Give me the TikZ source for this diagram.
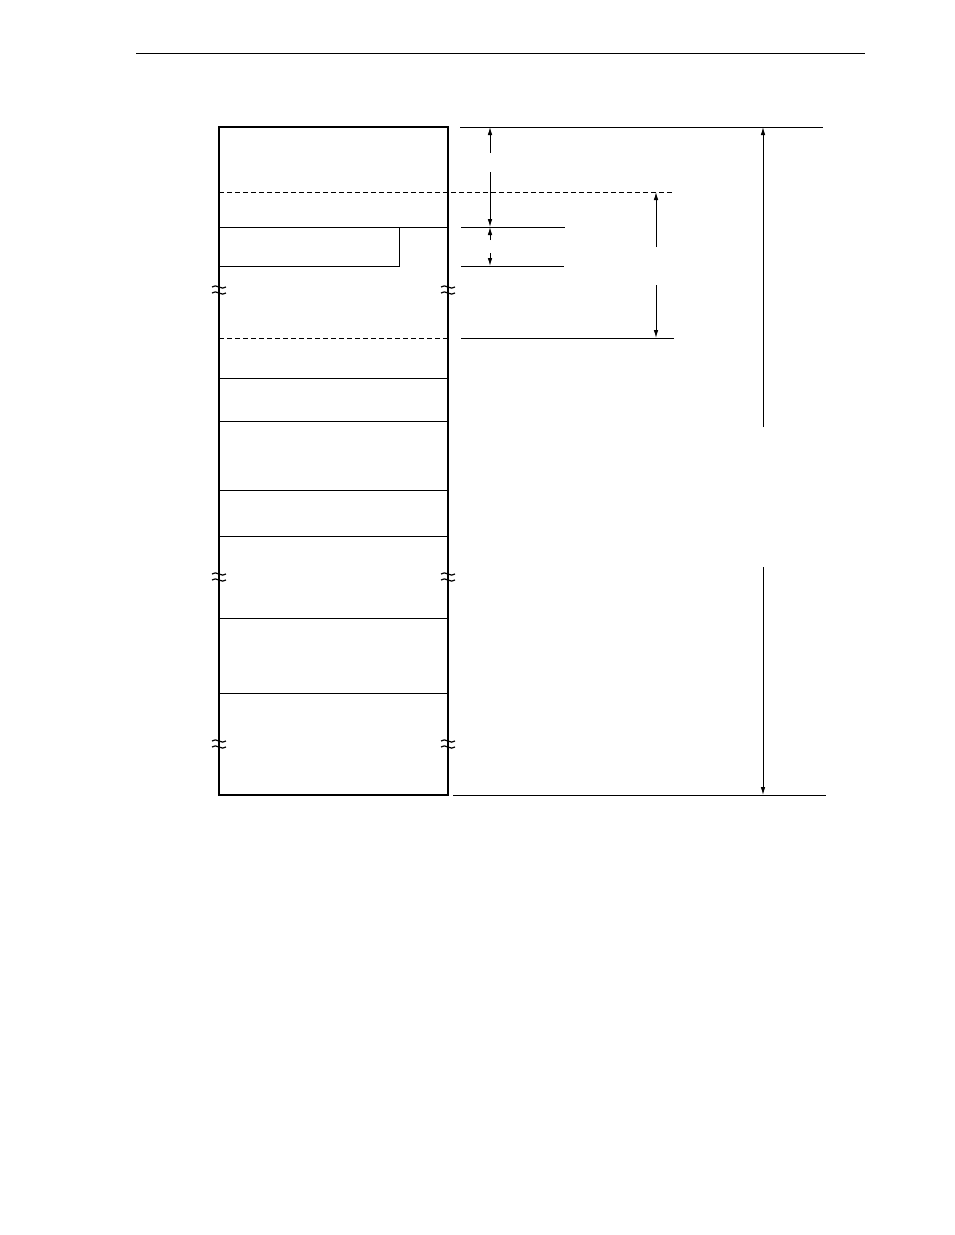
\documentclass[tikz,border=0pt]{standalone}
\usetikzlibrary{arrows.meta}
\tikzset{
  frame/.style={line width=1.8pt},
  rule/.style={line width=0.85pt},
  dashrule/.style={line width=0.85pt, dash pattern=on 5pt off 3pt},
  dimarrow/.style={line width=0.85pt, -{Latex[length=8pt,width=4.5pt]}},
  brk/.pic={
    \draw[line width=1.2pt] (-7,-3) .. controls (-3,-7) and (3,1) .. (7,-3);
    \draw[line width=1.2pt] (-7,3) .. controls (-3,-1) and (3,7) .. (7,3);
  }
}
\begin{document}
\begin{tikzpicture}[x=1pt,y=-1pt]
\useasboundingbox (0,0) rectangle (954,1235);
% page header rule
\draw[rule] (136,53) -- (865,53);

% memory map column
\draw[frame] (219,127) rectangle (448,795);
\draw[dashrule] (219,192) -- (674,192);
\draw[rule] (219,227) -- (448,227);
\draw[rule] (219,266) -- (399,266) -- (399,227);
\draw[dashrule] (219,338) -- (448,338);
\foreach \yy in {378,421,490,536,618,693}
  \draw[rule] (219,\yy) -- (448,\yy);

% break marks
\foreach \yy in {290,577,744} {
  \pic at (219,\yy) {brk};
  \pic at (448,\yy) {brk};
}

% extension lines
\draw[rule] (460,127) -- (823,127);
\draw[rule] (461,227) -- (565,227);
\draw[rule] (461,266) -- (564,266);
\draw[rule] (461,338) -- (674,338);
\draw[rule] (453,795) -- (826,795);

% dimension arrows
\coordinate (a1s) at (490,153);  \coordinate (a1e) at (490,127);
\coordinate (a2s) at (490,172);  \coordinate (a2e) at (490,227);
\coordinate (b1s) at (490,240);  \coordinate (b1e) at (490,227);
\coordinate (b2s) at (490,253);  \coordinate (b2e) at (490,266);
\coordinate (c1s) at (656,247);  \coordinate (c1e) at (656,192);
\coordinate (c2s) at (656,285);  \coordinate (c2e) at (656,338);
\coordinate (d1s) at (763,427);  \coordinate (d1e) at (763,127);
\coordinate (d2s) at (763,567);  \coordinate (d2e) at (763,795);
\foreach \dd in {a1,a2,b1,b2,c1,c2,d1,d2}
  \draw[dimarrow] (\dd s) -- (\dd e);
\end{tikzpicture}
\end{document}
